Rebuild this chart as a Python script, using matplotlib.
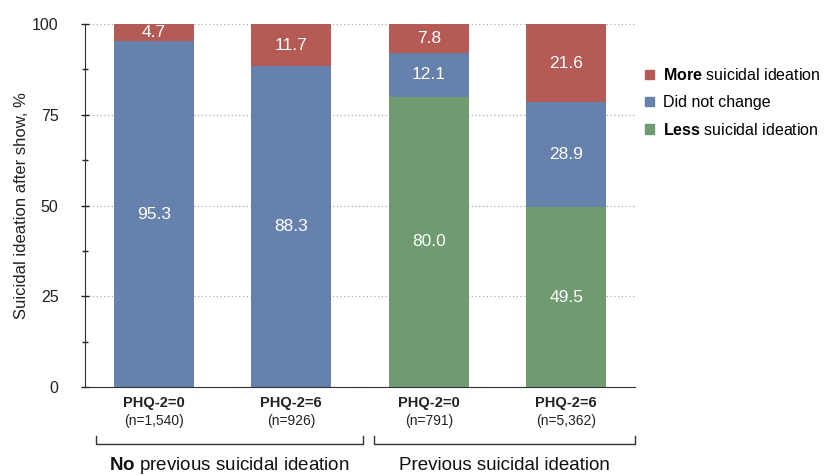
import numpy as np
import matplotlib
matplotlib.use('Agg')
import matplotlib.pyplot as plt
from matplotlib.patches import Patch

plt.rcParams['font.family'] = ['Liberation Sans', 'DejaVu Sans']
plt.rcParams['mathtext.fontset'] = 'custom'
plt.rcParams['mathtext.rm'] = 'Liberation Sans'
plt.rcParams['mathtext.bf'] = 'Liberation Sans:bold'

# data
categories = ['PHQ-2=0', 'PHQ-2=6', 'PHQ-2=0', 'PHQ-2=6']
sample_sizes = ['(n=1,540)', '(n=926)', '(n=791)', '(n=5,362)']
less = [0.0, 0.0, 80.0, 49.5]
same = [95.3, 88.3, 12.1, 28.9]
more = [4.7, 11.7, 7.8, 21.6]
groups = [r'$\bf{No}$ previous suicidal ideation', 'Previous suicidal ideation']

red = '#B65A55'
blue = '#6581AC'
green = '#6F9B70'

fig = plt.figure(figsize=(8.25, 4.75), dpi=100)
ax = fig.add_axes([85/825, 1-387/475, 550/825, 363/475])

x = np.arange(len(categories))
w = 0.585
less = np.array(less)
same = np.array(same)
more = np.array(more)

ax.bar(x, less, w, color=green, zorder=2)
ax.bar(x, same, w, bottom=less, color=blue, zorder=2)
ax.bar(x, more, w, bottom=less + same, color=red, zorder=2)

# values inside segments
for i in range(len(x)):
    base = 0
    for vals in (less, same, more):
        v = vals[i]
        if v > 0:
            ax.text(x[i], base + v / 2, f'{v:.1f}', ha='center', va='center',
                    color='white', fontsize=12.5, zorder=3)
        base += v

ax.set_xlim(-0.5, 3.5)
ax.set_ylim(0, 100)
ax.set_yticks([0, 25, 50, 75, 100])
ax.set_yticks(np.arange(12.5, 100, 25), minor=True)
ax.tick_params(axis='y', which='both', direction='inout', length=6, width=1,
               labelsize=11.5, colors='#222222', pad=16)
ax.tick_params(axis='y', which='minor', length=5)
ax.set_xticks([])
for s in ['top', 'right']:
    ax.spines[s].set_visible(False)
ax.spines['left'].set_color('#333333')
ax.spines['bottom'].set_color('#333333')
ax.yaxis.grid(True, linestyle=(0, (1, 2)), color='#aaaaaa', linewidth=0.9, zorder=0)
ax.set_axisbelow(True)
ax.set_ylabel('Suicidal ideation after show, %', fontsize=12, color='#222222', labelpad=2)

# category labels below the bars
tr = ax.get_xaxis_transform()
for i in range(len(x)):
    ax.text(x[i], -0.045, categories[i], transform=tr, ha='center', va='center',
            fontsize=10.5, fontweight='bold', color='#222222')
    ax.text(x[i], -0.094, sample_sizes[i], transform=tr, ha='center', va='center',
            fontsize=10, color='#222222')

# group brackets
brackets = [(-0.42, 1.52), (1.60, 3.5)]
for (x0, x1), label in zip(brackets, groups):
    ax.plot([x0, x0, x1, x1], [-0.135, -0.157, -0.157, -0.135], transform=tr,
            color='#333333', lw=1, clip_on=False)
    ax.text((x0 + x1) / 2, -0.215, label, transform=tr, ha='center', va='center',
            fontsize=13.5, color='#111111')

handles = [Patch(color=red), Patch(color=blue), Patch(color=green)]
labels = [r'$\bf{More}$ suicidal ideation', 'Did not change', r'$\bf{Less}$ suicidal ideation']
fig.legend(handles, labels, loc='upper left', bbox_to_anchor=(645/825, 1-67/475),
           frameon=False, fontsize=11.5, handlelength=0.55, handleheight=0.55,
           handletextpad=0.6, labelspacing=0.75, borderaxespad=0, borderpad=0)

fig.savefig('out.png', dpi=100)
